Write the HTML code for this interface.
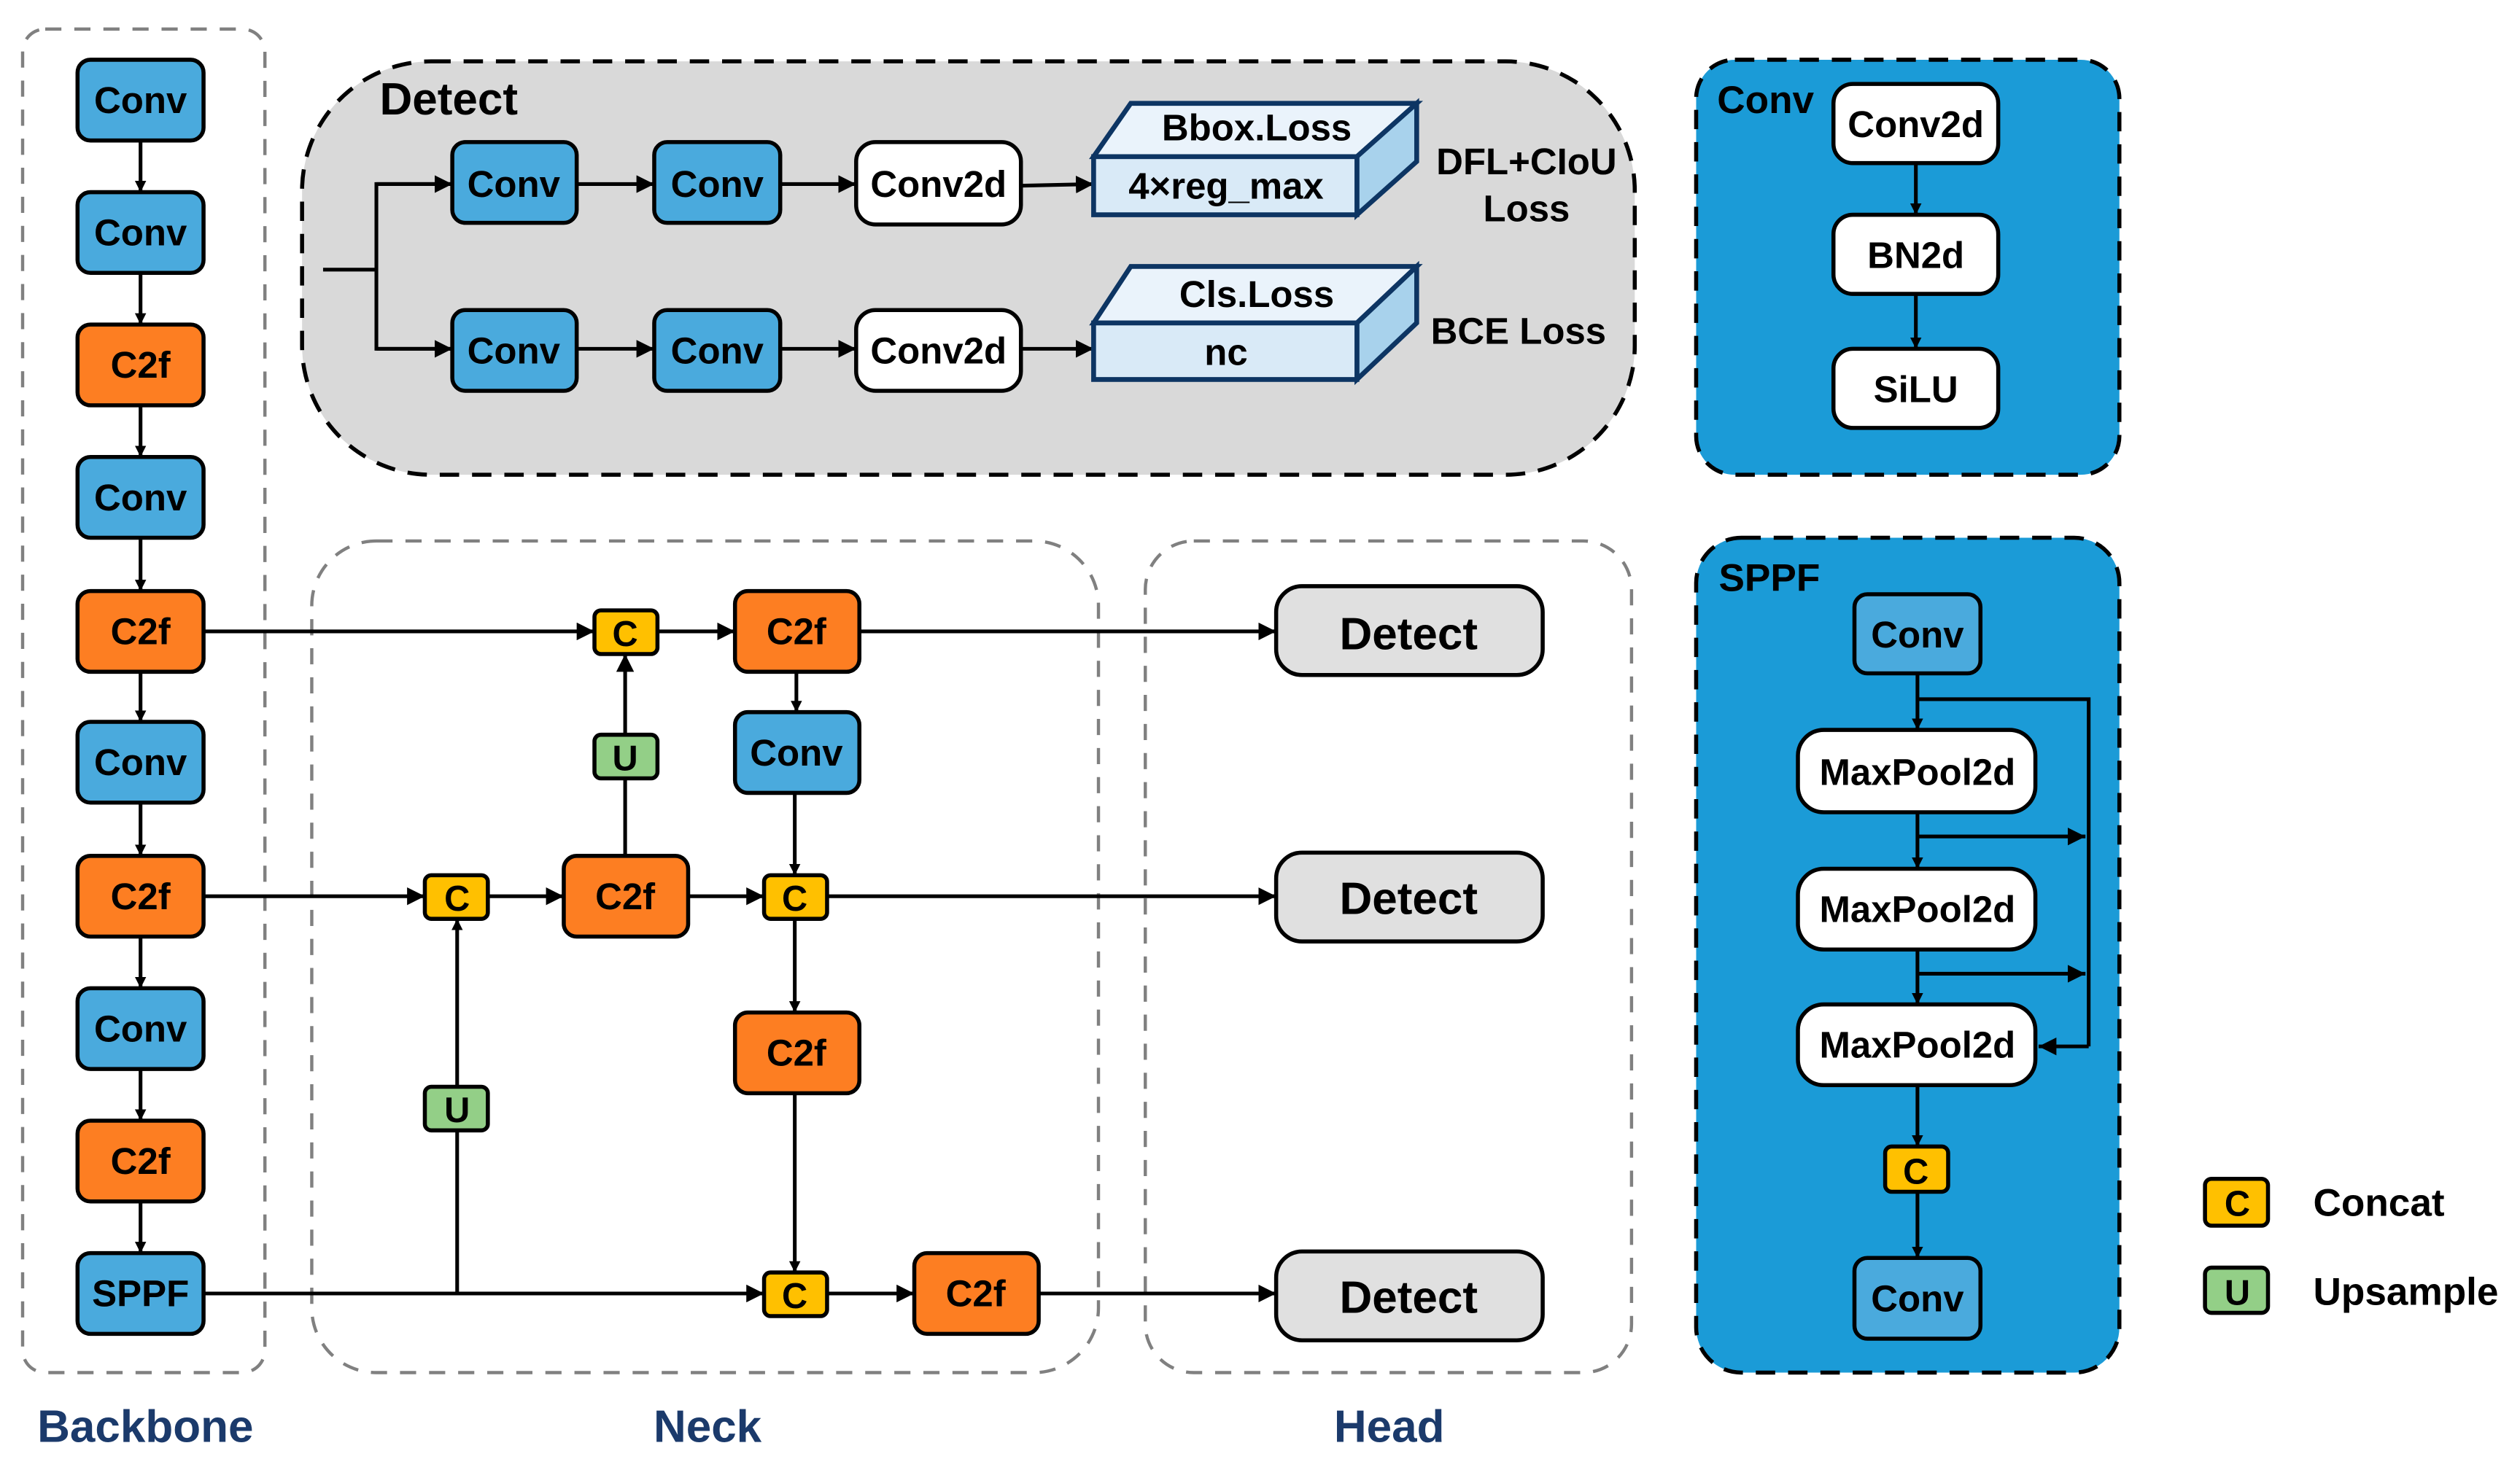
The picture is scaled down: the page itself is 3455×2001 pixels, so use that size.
<!DOCTYPE html>
<html><head><meta charset="utf-8"><style>
html,body{margin:0;padding:0;background:#fff;}
svg{display:block;}
text{font-family:"Liberation Sans",sans-serif;font-weight:bold;}
</style></head><body>
<svg width="3455" height="2001" viewBox="0 0 1560 903.5" preserveAspectRatio="none" xmlns="http://www.w3.org/2000/svg">
<defs>
<marker id="a" viewBox="0 0 10 10" refX="10" refY="5" markerWidth="7" markerHeight="7" orient="auto" markerUnits="userSpaceOnUse"><path d="M0,0L10,5L0,10z" fill="#000"/></marker>
<marker id="b" viewBox="0 0 10 10" refX="10" refY="5" markerWidth="11" markerHeight="11" orient="auto" markerUnits="userSpaceOnUse"><path d="M0,0L10,5L0,10z" fill="#000"/></marker>
</defs>
<rect width="1560" height="903.5" fill="#fff"/>

<rect x="14" y="18" width="150" height="832" rx="14" fill="none" stroke="#808080" stroke-width="2" stroke-dasharray="10,8"/>
<rect x="193" y="335" width="487" height="515" rx="40" fill="none" stroke="#808080" stroke-width="2" stroke-dasharray="10,8"/>
<rect x="709" y="335" width="301" height="515" rx="30" fill="none" stroke="#808080" stroke-width="2" stroke-dasharray="10,8"/>
<rect x="187" y="38" width="825" height="256" rx="80" fill="#d9d9d9" stroke="#000" stroke-width="2.5" stroke-dasharray="12,8"/>
<rect x="1050" y="37" width="262" height="257" rx="24" fill="#1b9bd7" stroke="#000" stroke-width="2.5" stroke-dasharray="12,8"/>
<rect x="1050" y="333" width="262" height="517" rx="28" fill="#1b9bd7" stroke="#000" stroke-width="2.5" stroke-dasharray="12,8"/>

<g stroke="#000" stroke-width="2.3" fill="none">
<line x1="87" y1="87" x2="87" y2="119" marker-end="url(#a)"/>
<line x1="87" y1="169" x2="87" y2="201" marker-end="url(#a)"/>
<line x1="87" y1="251" x2="87" y2="283" marker-end="url(#a)"/>
<line x1="87" y1="333" x2="87" y2="366" marker-end="url(#a)"/>
<line x1="87" y1="416" x2="87" y2="447" marker-end="url(#a)"/>
<line x1="87" y1="497" x2="87" y2="530" marker-end="url(#a)"/>
<line x1="87" y1="580" x2="87" y2="612" marker-end="url(#a)"/>
<line x1="87" y1="662" x2="87" y2="694" marker-end="url(#a)"/>
<line x1="87" y1="744" x2="87" y2="776" marker-end="url(#a)"/>
<line x1="126" y1="391" x2="368" y2="391" marker-end="url(#b)"/>
<line x1="407" y1="391" x2="455" y2="391" marker-end="url(#b)"/>
<line x1="532" y1="391" x2="790" y2="391" marker-end="url(#b)"/>
<line x1="493" y1="416" x2="493" y2="441" marker-end="url(#a)"/>
<line x1="387" y1="455" x2="387" y2="405" marker-end="url(#b)"/>
<line x1="387" y1="530" x2="387" y2="482"/>
<line x1="126" y1="555" x2="263" y2="555" marker-end="url(#b)"/>
<line x1="302" y1="555" x2="349" y2="555" marker-end="url(#b)"/>
<line x1="426" y1="555" x2="473" y2="555" marker-end="url(#b)"/>
<line x1="512" y1="555" x2="790" y2="555" marker-end="url(#b)"/>
<line x1="492" y1="491" x2="492" y2="542" marker-end="url(#a)"/>
<line x1="492" y1="569" x2="492" y2="627" marker-end="url(#a)"/>
<line x1="492" y1="677" x2="492" y2="788" marker-end="url(#a)"/>
<line x1="126" y1="801" x2="473" y2="801" marker-end="url(#b)"/>
<line x1="283" y1="801" x2="283" y2="700"/>
<line x1="283" y1="673" x2="283" y2="569" marker-end="url(#a)"/>
<line x1="512" y1="801" x2="566" y2="801" marker-end="url(#b)"/>
<line x1="643" y1="801" x2="790" y2="801" marker-end="url(#b)"/>
<polyline points="200,167 233,167"/>
<polyline points="280,114 233,114 233,216 280,216"/>
<line x1="233" y1="114" x2="280" y2="114" marker-end="url(#b)"/>
<line x1="233" y1="216" x2="280" y2="216" marker-end="url(#b)"/>
<line x1="357" y1="114" x2="405" y2="114" marker-end="url(#b)"/>
<line x1="483" y1="114" x2="530" y2="114" marker-end="url(#b)"/>
<line x1="632" y1="115" x2="677" y2="114" marker-end="url(#b)"/>
<line x1="357" y1="216" x2="405" y2="216" marker-end="url(#b)"/>
<line x1="483" y1="216" x2="530" y2="216" marker-end="url(#b)"/>
<line x1="632" y1="216" x2="677" y2="216" marker-end="url(#b)"/>
<line x1="1186" y1="101" x2="1186" y2="133" marker-end="url(#a)"/>
<line x1="1186" y1="182" x2="1186" y2="216" marker-end="url(#a)"/>
<line x1="1187" y1="417" x2="1187" y2="452" marker-end="url(#a)"/>
<polyline points="1187,433 1293,433 1293,648"/>
<line x1="1293" y1="648" x2="1262" y2="648" marker-end="url(#b)"/>
<line x1="1187" y1="503" x2="1187" y2="538" marker-end="url(#a)"/>
<line x1="1187" y1="518" x2="1291" y2="518" marker-end="url(#b)"/>
<line x1="1187" y1="588" x2="1187" y2="622" marker-end="url(#a)"/>
<line x1="1187" y1="603" x2="1291" y2="603" marker-end="url(#b)"/>
<line x1="1187" y1="672" x2="1187" y2="710" marker-end="url(#a)"/>
<line x1="1187" y1="738" x2="1187" y2="779" marker-end="url(#a)"/>
</g>

<g stroke="#000" stroke-width="2.5">
<g fill="#4aaadd">
<rect x="48" y="37" width="78" height="50" rx="8"/><rect x="48" y="119" width="78" height="50" rx="8"/>
<rect x="48" y="283" width="78" height="50" rx="8"/><rect x="48" y="447" width="78" height="50" rx="8"/>
<rect x="48" y="612" width="78" height="50" rx="8"/><rect x="48" y="776" width="78" height="50" rx="8"/>
<rect x="455" y="441" width="77" height="50" rx="8"/>
<rect x="280" y="88" width="77" height="50" rx="8"/><rect x="405" y="88" width="78" height="50" rx="8"/>
<rect x="280" y="192" width="77" height="50" rx="8"/><rect x="405" y="192" width="78" height="50" rx="8"/>
<rect x="1148" y="368" width="78" height="49" rx="8"/><rect x="1148" y="779" width="78" height="50" rx="8"/>
</g>
<g fill="#fd7e22">
<rect x="48" y="201" width="78" height="50" rx="8"/><rect x="48" y="366" width="78" height="50" rx="8"/>
<rect x="48" y="530" width="78" height="50" rx="8"/><rect x="48" y="694" width="78" height="50" rx="8"/>
<rect x="455" y="366" width="77" height="50" rx="8"/><rect x="349" y="530" width="77" height="50" rx="8"/>
<rect x="455" y="627" width="77" height="50" rx="8"/><rect x="566" y="776" width="77" height="50" rx="8"/>
</g>
<g fill="#ffc000">
<rect x="368" y="378" width="39" height="27" rx="4"/><rect x="263" y="542" width="39" height="27" rx="4"/>
<rect x="473" y="542" width="39" height="27" rx="4"/><rect x="473" y="788" width="39" height="27" rx="4"/>
<rect x="1167" y="710" width="39" height="28" rx="4"/><rect x="1365" y="730" width="39" height="29" rx="4"/>
</g>
<g fill="#93cf87">
<rect x="368" y="455" width="39" height="27" rx="4"/><rect x="263" y="673" width="39" height="27" rx="4"/>
<rect x="1365" y="785" width="39" height="28" rx="4"/>
</g>
<g fill="#fff">
<rect x="530" y="88" width="102" height="51" rx="12"/><rect x="530" y="192" width="102" height="50" rx="12"/>
<rect x="1135" y="52" width="102" height="49" rx="12"/><rect x="1135" y="133" width="102" height="49" rx="12"/>
<rect x="1135" y="216" width="102" height="49" rx="12"/>
<rect x="1113" y="452" width="147" height="51" rx="16"/><rect x="1113" y="538" width="147" height="50" rx="16"/>
<rect x="1113" y="622" width="147" height="50" rx="16"/>
</g>
<g fill="#e0e0e0">
<rect x="790" y="363" width="165" height="55" rx="16"/><rect x="790" y="528" width="165" height="55" rx="16"/>
<rect x="790" y="775" width="165" height="55" rx="16"/>
</g>
</g>

<g stroke="#0d3563" stroke-width="3">
<polygon points="677,97 700,64 877,64 840,97" fill="#eaf3fb"/>
<polygon points="840,97 877,64 877,100 840,133" fill="#a8d2ec"/>
<rect x="677" y="97" width="163" height="36" fill="#d9eaf7"/>
<polygon points="677,200 700,165 877,165 840,200" fill="#eaf3fb"/>
<polygon points="840,200 877,165 877,200 840,235" fill="#a8d2ec"/>
<rect x="677" y="200" width="163" height="35" fill="#d9eaf7"/>
</g>

<g font-size="23" text-anchor="middle" fill="#000">
<text x="87" y="70">Conv</text><text x="87" y="152">Conv</text><text x="87" y="234">C2f</text>
<text x="87" y="316">Conv</text><text x="87" y="399">C2f</text><text x="87" y="480">Conv</text>
<text x="87" y="563">C2f</text><text x="87" y="645">Conv</text><text x="87" y="727">C2f</text>
<text x="87" y="809">SPPF</text>
<text x="493" y="399">C2f</text><text x="493" y="474">Conv</text><text x="387" y="563">C2f</text>
<text x="493" y="660">C2f</text><text x="604" y="809">C2f</text>
<text x="318" y="122">Conv</text><text x="444" y="122">Conv</text><text x="581" y="122">Conv2d</text>
<text x="318" y="225">Conv</text><text x="444" y="225">Conv</text><text x="581" y="225">Conv2d</text>
<text x="1186" y="85">Conv2d</text><text x="1186" y="166">BN2d</text><text x="1186" y="249">SiLU</text>
<text x="1187" y="401">Conv</text><text x="1187" y="812">Conv</text>
<text x="1187" y="486">MaxPool2d</text><text x="1187" y="571">MaxPool2d</text><text x="1187" y="655">MaxPool2d</text>
<text x="778" y="87">Bbox.Loss</text><text x="759" y="123">4×reg_max</text>
<text x="778" y="190">Cls.Loss</text><text x="759" y="226">nc</text>
<text x="945" y="108">DFL+CIoU</text><text x="945" y="137">Loss</text>
<text x="940" y="213">BCE Loss</text>
</g>
<g font-size="22" text-anchor="middle">
<text x="387" y="400">C</text><text x="283" y="564">C</text><text x="492" y="564">C</text><text x="492" y="810">C</text>
<text x="387" y="477">U</text><text x="283" y="695">U</text>
<text x="1186" y="733">C</text><text x="1385" y="753">C</text><text x="1385" y="808">U</text>
</g>
<g font-size="28" text-anchor="middle">
<text x="872" y="402">Detect</text><text x="872" y="566">Detect</text><text x="872" y="813">Detect</text>
</g>
<text x="235" y="71" font-size="28">Detect</text>
<text x="1063" y="70" font-size="24">Conv</text>
<text x="1064" y="366" font-size="24">SPPF</text>
<text x="1432" y="753" font-size="24">Concat</text>
<text x="1432" y="808" font-size="24">Upsample</text>
<g font-size="28" fill="#1b3a6b" text-anchor="middle">
<text x="90" y="893">Backbone</text><text x="438" y="893">Neck</text><text x="860" y="893">Head</text>
</g>
</svg>
</body></html>
